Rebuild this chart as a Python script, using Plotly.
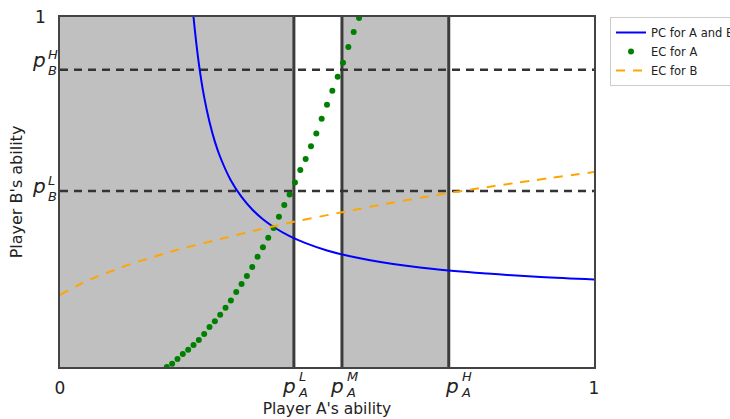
import plotly.graph_objects as go

# ---------------- data ----------------
# thresholds (data coordinates)
pA_L, pA_M, pA_H = 0.438, 0.528, 0.728
pB_L, pB_H = 0.503, 0.849

# PC for A and B (blue solid curve)
pc_x = [0.245, 0.25, 0.26, 0.27, 0.28, 0.29, 0.30, 0.32, 0.34, 0.36, 0.38, 0.40,
        0.43, 0.46, 0.50, 0.55, 0.60, 0.70, 0.80, 0.90, 1.00]
pc_y = [1.089, 1.000, 0.867, 0.771, 0.700, 0.644, 0.600, 0.533, 0.486, 0.450, 0.422, 0.400,
        0.374, 0.354, 0.333, 0.314, 0.300, 0.280, 0.267, 0.257, 0.250]

# EC for A (green dots)
eca_x = [0.20, 0.21, 0.22, 0.23, 0.24, 0.25, 0.26, 0.27, 0.28, 0.29, 0.30, 0.31, 0.32,
         0.33, 0.34, 0.35, 0.36, 0.37, 0.38, 0.39, 0.40, 0.41, 0.42, 0.43, 0.44, 0.45,
         0.46, 0.47, 0.48, 0.49, 0.50, 0.51, 0.52, 0.53, 0.54, 0.55, 0.56]
eca_y = [0.000, 0.009, 0.023, 0.037, 0.049, 0.063, 0.077, 0.094, 0.114, 0.131, 0.149, 0.169, 0.190,
         0.214, 0.237, 0.260, 0.286, 0.315, 0.342, 0.369, 0.397, 0.429, 0.463, 0.493, 0.527, 0.563,
         0.594, 0.631, 0.667, 0.709, 0.749, 0.789, 0.829, 0.869, 0.914, 0.957, 0.997]

# EC for B (orange dashed curve)
ecb_x = [0.000, 0.034, 0.069, 0.102, 0.136, 0.170, 0.204, 0.238, 0.275, 0.309,
         0.360, 0.438, 0.528, 0.599, 0.724, 0.849, 1.000]
ecb_y = [0.206, 0.234, 0.258, 0.277, 0.296, 0.312, 0.328, 0.342, 0.356, 0.369,
         0.388, 0.415, 0.442, 0.463, 0.496, 0.525, 0.557]

x_tick_vals = [0, 1]
x_tick_text = ["0", "1"]
y_tick_vals = [1]
y_tick_text = ["1"]

# stacked math-like labels: (value, sub, sup)
x_labels = [(pA_L, "A", "L"), (pA_M, "A", "M"), (pA_H, "A", "H")]
y_labels = [(pB_H, "B", "H"), (pB_L, "B", "L")]

FONT = "DejaVu Sans"
TXT = "#222222"

fig = go.Figure()

fig.add_trace(go.Scatter(x=pc_x, y=pc_y, mode="lines", name="PC for A and B",
                         line=dict(color="#0000ff", width=2, shape="spline")))
fig.add_trace(go.Scatter(x=eca_x, y=eca_y, mode="markers", name="EC for A",
                         marker=dict(color="#008000", size=6)))
fig.add_trace(go.Scatter(x=ecb_x, y=ecb_y, mode="lines", name="EC for B",
                         line=dict(color="#ffa500", width=2, dash="9px,8px", shape="spline")))

# shaded regions
for x0, x1 in [(0, pA_L), (pA_M, pA_H)]:
    fig.add_shape(type="rect", xref="x", yref="y", x0=x0, x1=x1, y0=0, y1=1,
                  fillcolor="#c0c0c0", line=dict(width=0), layer="below")
# vertical thresholds
for xv in [pA_L, pA_M, pA_H]:
    fig.add_shape(type="line", xref="x", yref="y", x0=xv, x1=xv, y0=0, y1=1,
                  line=dict(color="#3c3c3c", width=3), layer="below")
# horizontal dashed thresholds
for yv in [pB_H, pB_L]:
    fig.add_shape(type="line", xref="x", yref="y", x0=0, x1=1, y0=yv, y1=yv,
                  line=dict(color="#333333", width=2.5, dash="8px,6px"), layer="below")

# x-axis stacked labels
x_shift = [3, 3, 11]
for (xv, sub, sup), sh in zip(x_labels, x_shift):
    fig.add_annotation(x=xv, y=0, xref="x", yref="paper", text="<i>p</i>", showarrow=False,
                       xanchor="right", yanchor="middle", xshift=sh + 1, yshift=-19,
                       font=dict(family=FONT, size=20, color=TXT))
    fig.add_annotation(x=xv, y=0, xref="x", yref="paper", text="<i>%s</i>" % sup, showarrow=False,
                       xanchor="left", yanchor="middle", xshift=sh, yshift=-9,
                       font=dict(family=FONT, size=13, color=TXT))
    fig.add_annotation(x=xv, y=0, xref="x", yref="paper", text="<i>%s</i>" % sub, showarrow=False,
                       xanchor="left", yanchor="middle", xshift=sh - 1, yshift=-25,
                       font=dict(family=FONT, size=13, color=TXT))

# y-axis stacked labels
y_p_shift = [10, 5]
for (yv, sub, sup), sh in zip(y_labels, y_p_shift):
    fig.add_annotation(x=0, y=yv, xref="paper", yref="y", text="<i>p</i>", showarrow=False,
                       xanchor="right", yanchor="middle", xshift=-12, yshift=sh,
                       font=dict(family=FONT, size=20, color=TXT))
    fig.add_annotation(x=0, y=yv, xref="paper", yref="y", text="<i>%s</i>" % sup, showarrow=False,
                       xanchor="left", yanchor="middle", xshift=-14, yshift=sh + 5,
                       font=dict(family=FONT, size=13, color=TXT))
    fig.add_annotation(x=0, y=yv, xref="paper", yref="y", text="<i>%s</i>" % sub, showarrow=False,
                       xanchor="left", yanchor="middle", xshift=-14, yshift=sh - 11,
                       font=dict(family=FONT, size=13, color=TXT))

axis_common = dict(range=[0, 1], ticks="", showgrid=False, zeroline=False, showline=True,
                   mirror=True, linecolor="#444444", linewidth=1.5,
                   tickfont=dict(family=FONT, size=17, color=TXT))

fig.update_xaxes(**axis_common, tickvals=x_tick_vals, ticktext=x_tick_text,
                 ticklabelstandoff=5,
                 title=dict(text="Player A's ability", standoff=6,
                            font=dict(family=FONT, size=15.5, color=TXT)))
fig.update_yaxes(**axis_common, tickvals=y_tick_vals, ticktext=y_tick_text,
                 ticklabelstandoff=9,
                 title=dict(text="Player B's ability", standoff=8,
                            font=dict(family=FONT, size=16, color=TXT)))

fig.update_layout(
    template="none",
    width=730, height=419,
    margin=dict(l=60, r=136, t=17, b=52, autoexpand=False),
    paper_bgcolor="white", plot_bgcolor="white",
    font=dict(family=FONT, color=TXT),
    showlegend=True,
    legend=dict(x=1.03, y=1.0, xanchor="left", yanchor="top",
                bgcolor="white", bordercolor="#cccccc", borderwidth=1,
                font=dict(family=FONT, size=11.5, color=TXT),
                itemwidth=30, tracegroupgap=0),
)

fig.write_html("out.html")
